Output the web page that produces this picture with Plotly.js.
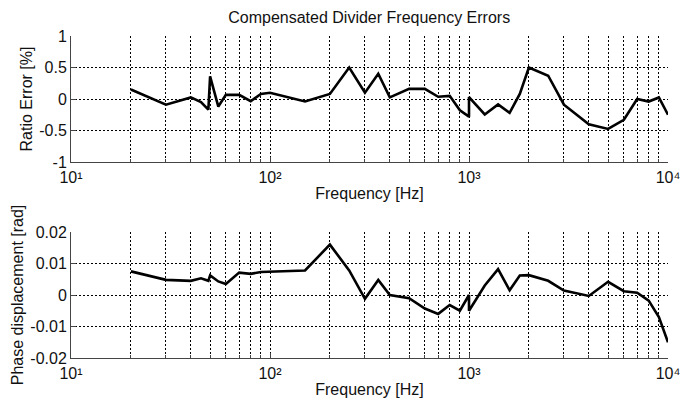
<!DOCTYPE html>
<html>
<head>
<meta charset="utf-8">
<script src="https://cdn.plot.ly/plotly-3.0.1.min.js"></script>
<style>html,body{margin:0;padding:0;background:#fff;}#chart{width:692px;height:403px;}</style>
</head>
<body>
<div id="chart"></div>
<script>
// Frequencies [Hz] (two measurements at 1 kHz)
const freq = [20,30,40,45,49,50,55,60,70,80,90,100,150,200,250,300,350,400,500,600,700,800,900,1000,1000,1200,1400,1600,1800,2000,2500,3000,4000,5000,6000,7000,8000,9000,10000];
// Ratio error [%]
const ratioError = [0.15,-0.09,0.025,-0.05,-0.17,0.36,-0.12,0.065,0.065,-0.035,0.08,0.1,-0.04,0.08,0.5,0.1,0.4,0.025,0.16,0.16,0.035,0.05,-0.18,-0.28,0.03,-0.245,-0.085,-0.22,0.08,0.5,0.37,-0.09,-0.4,-0.475,-0.33,0.0,-0.04,0.025,-0.25];
// Phase displacement [rad]
const phaseDisp = [0.0075,0.0048,0.0045,0.0053,0.0045,0.0062,0.0043,0.0035,0.0071,0.0067,0.0073,0.0074,0.0078,0.016,0.0078,-0.0012,0.0048,0.0,-0.001,-0.0043,-0.006,-0.0032,-0.005,0.0,-0.005,0.003,0.0082,0.0015,0.0062,0.0063,0.0045,0.0014,-0.0003,0.0042,0.0012,0.0007,-0.0018,-0.007,-0.015];

const xMajorVals = [10,100,1000,10000];
const xMajorText = ['10\u00B9','10\u00B2','10\u00B3','10\u2074'];
const xMinorVals = [20,30,40,50,60,70,80,90,200,300,400,500,600,700,800,900,2000,3000,4000,5000,6000,7000,8000,9000];
const y1Vals = [-1,-0.5,0,0.5,1];
const y1Text = ['-1','-0.5','0','0.5','1'];
const y2Vals = [-0.02,-0.01,0,0.01,0.02];
const y2Text = ['-0.02','-0.01','0','0.01','0.02'];

const titleText = 'Compensated Divider Frequency Errors';
const xTitle = 'Frequency [Hz]';
const y1Title = 'Ratio Error [%]';
const y2Title = 'Phase displacement [rad]';

const FONT = 'Liberation Sans, Arial, Helvetica, sans-serif';
const gridCol = '#000';
const dash = '2px,2px';

function xAxis(anchor){
  return {
    type:'log', range:[1,4], anchor:anchor,
    tickvals:xMajorVals, ticktext:xMajorText,
    ticks:'inside', ticklen:5, tickcolor:'#444', tickwidth:1,
    showline:true, linecolor:'#444', linewidth:1,
    showgrid:true, gridcolor:gridCol, griddash:dash, gridwidth:1,
    zeroline:false,
    tickfont:{family:FONT,size:16,color:'#111'},
    ticklabelstandoff:1,
    minor:{tickvals:xMinorVals, ticks:'inside', ticklen:3, tickcolor:'#444',
           showgrid:true, gridcolor:gridCol, griddash:dash, gridwidth:1},
    title:{text:xTitle, font:{family:FONT,size:16,color:'#111'}, standoff:2}
  };
}
function yAxis(domain, range, vals, text, title, anchor, standoff){
  return {
    domain:domain, range:range, anchor:anchor,
    tickvals:vals, ticktext:text,
    ticks:'inside', ticklen:5, tickcolor:'#444', tickwidth:1,
    showline:true, linecolor:'#444', linewidth:1,
    showgrid:true, gridcolor:gridCol, griddash:dash, gridwidth:1,
    zeroline:false,
    tickfont:{family:FONT,size:16,color:'#111'},
    ticklabelstandoff:0,
    title:{text:title, font:{family:FONT,size:16,color:'#111'}, standoff:standoff}
  };
}

const traces = [
  {x:freq, y:ratioError, xaxis:'x', yaxis:'y', type:'scatter', mode:'lines',
   line:{color:'#000', width:2.6}, hoverinfo:'x+y'},
  {x:freq, y:phaseDisp, xaxis:'x2', yaxis:'y2', type:'scatter', mode:'lines',
   line:{color:'#000', width:2.6}, hoverinfo:'x+y'}
];

const layout = {
  width:692, height:403,
  margin:{l:71, r:24, t:36, b:45},
  paper_bgcolor:'#fff', plot_bgcolor:'#fff',
  showlegend:false,
  font:{family:FONT, color:'#111'},
  title:{text:titleText, font:{family:FONT,size:16,color:'#111'}, x:0.5335, xanchor:'center', y:0.957, yanchor:'middle'},
  xaxis:xAxis('y'),
  xaxis2:xAxis('y2'),
  yaxis:yAxis([0.6087,1], [-1,1], y1Vals, y1Text, y1Title, 'x', 2),
  yaxis2:yAxis([0,0.3913], [-0.02,0.02], y2Vals, y2Text, y2Title, 'x2', 2)
};

Plotly.newPlot('chart', traces, layout, {staticPlot:true, displayModeBar:false});
</script>
</body>
</html>
